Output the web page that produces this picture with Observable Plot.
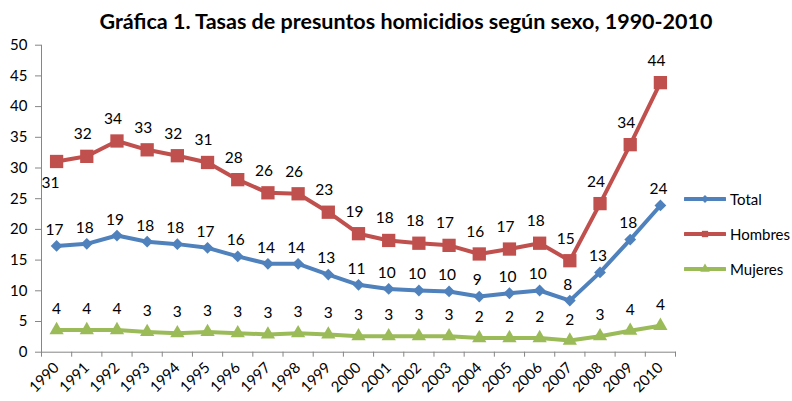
<!DOCTYPE html>
<html>
<head>
<meta charset="utf-8">
<script src="https://cdn.jsdelivr.net/npm/d3@7"></script>
<script src="https://cdn.jsdelivr.net/npm/@observablehq/plot@0.6"></script>
<style>
  html, body { margin: 0; padding: 0; background: #fff; }
  #wrap { position: relative; width: 792px; height: 401px; font-family: Lato, "Open Sans", sans-serif; }
  #title { height: 36px; line-height: 42px; text-align: center; padding-left: 20px; box-sizing: border-box;
           font-weight: bold; font-size: 21.5px; color: #000; white-space: nowrap; }
  #legend { position: absolute; left: 684px; top: 181px; font-size: 15px; color: #000; }
  .item { height: 35px; display: flex; align-items: center; }
  .item svg { margin-right: 4px; }
</style>
</head>
<body>
<div id="wrap">
  <div id="title">Gráfica 1. Tasas de presuntos homicidios según sexo, 1990-2010</div>
  <div id="chart"></div>
  <div id="legend"></div>
</div>
<script>
const years = [1990,1991,1992,1993,1994,1995,1996,1997,1998,1999,2000,2001,2002,2003,2004,2005,2006,2007,2008,2009,2010];
const total   = [17.3,17.65,19.0,18.0,17.6,17.0,15.6,14.4,14.4,12.65,10.97,10.3,10.05,9.9,9.07,9.6,10.05,8.4,13.0,18.35,23.9];
const hombres = [31.06,31.9,34.4,32.96,32.0,30.9,28.1,25.96,25.8,22.8,19.3,18.2,17.75,17.4,16.0,16.8,17.75,14.9,24.2,33.8,43.9];
const mujeres = [3.6,3.6,3.6,3.3,3.1,3.3,3.1,2.9,3.1,2.9,2.6,2.6,2.6,2.6,2.3,2.3,2.3,1.9,2.6,3.5,4.3];
const seriesNames = ["Total","Hombres","Mujeres"];
const yTicks = [0,5,10,15,20,25,30,35,40,45,50];

const colors = {Total:"#4F81BD", Hombres:"#C0504D", Mujeres:"#9BBB59"};
const symbols = {Total:"diamond2", Hombres:"square", Mujeres:"triangle"};
const radii = {Total:5.3, Hombres:7.5, Mujeres:5.3};
const labelDy = {Total:-16, Hombres:-22, Mujeres:-21};
const labelDx = {Total:-2, Hombres:-4, Mujeres:0};

const valuesBy = {Total: total, Hombres: hombres, Mujeres: mujeres};
const rows = seriesNames.flatMap(s => years.map((y, i) => ({year: y, value: valuesBy[s][i], series: s})));
const boundaries = years.map(y => y - 0.5).concat([years[years.length - 1] + 0.5]);
const fmt = d3.format(".0f");

const marks = [
  Plot.axisY({ticks: yTicks, tickSize: 6, tickPadding: 8, stroke: "#868686", label: null, fontSize: 15}),
  Plot.axisX({ticks: boundaries, tickSize: 5, tickFormat: () => "", stroke: "#868686", label: null}),
  Plot.axisX({ticks: years, tickSize: 0, tickRotate: -45, tickPadding: 13, tickFormat: d => String(d), label: null, fontSize: 15}),
  Plot.frame({anchor: "left", stroke: "#868686"}),
  Plot.frame({anchor: "bottom", stroke: "#868686"})
];
for (const s of seriesNames) {
  const data = rows.filter(d => d.series === s);
  marks.push(Plot.line(data, {x: "year", y: "value", stroke: colors[s], strokeWidth: 4}));
  marks.push(Plot.dot(data, {x: "year", y: "value", symbol: symbols[s], r: radii[s], fill: colors[s], stroke: "none"}));
}
for (const s of seriesNames) {
  const data = rows.filter(d => d.series === s);
  if (s === "Hombres") {
    marks.push(Plot.text(data.filter(d => d.year === years[0]), {x: "year", y: "value", text: d => fmt(d.value), dy: 22, dx: -6, fontSize: 15.5, fill: "#000"}));
    marks.push(Plot.text(data.filter(d => d.year !== years[0]), {x: "year", y: "value", text: d => fmt(d.value), dy: labelDy[s], dx: labelDx[s], fontSize: 15.5, fill: "#000"}));
  } else {
    marks.push(Plot.text(data, {x: "year", y: "value", text: d => fmt(d.value), dy: labelDy[s], dx: labelDx[s], fontSize: 15.5, fill: "#000"}));
  }
}

const chart = Plot.plot({
  width: 792,
  height: 365,
  marginTop: 8.7,
  marginBottom: 49.3,
  marginLeft: 41,
  marginRight: 117,
  x: {type: "linear", domain: [boundaries[0], boundaries[boundaries.length - 1]]},
  y: {domain: [yTicks[0], yTicks[yTicks.length - 1]]},
  style: {fontFamily: "Lato, 'Open Sans', sans-serif", fontSize: "15px", color: "#000", background: "#fff"},
  marks
});
document.getElementById("chart").appendChild(chart);

// Legend
const legend = d3.select("#legend");
for (const s of seriesNames) {
  const item = legend.append("div").attr("class", "item");
  const svg = item.append("svg").attr("width", 42).attr("height", 14);
  svg.append("line").attr("x1", 1).attr("x2", 41).attr("y1", 7).attr("y2", 7)
    .attr("stroke", colors[s]).attr("stroke-width", 4).attr("stroke-linecap", "round");
  const sym = {Total: d3.symbolDiamond2, Hombres: d3.symbolSquare, Mujeres: d3.symbolTriangle}[s];
  svg.append("path").attr("d", d3.symbol(sym, 40)()).attr("transform", "translate(21,7)").attr("fill", colors[s]);
  item.append("span").text(s);
}
</script>
</body>
</html>
